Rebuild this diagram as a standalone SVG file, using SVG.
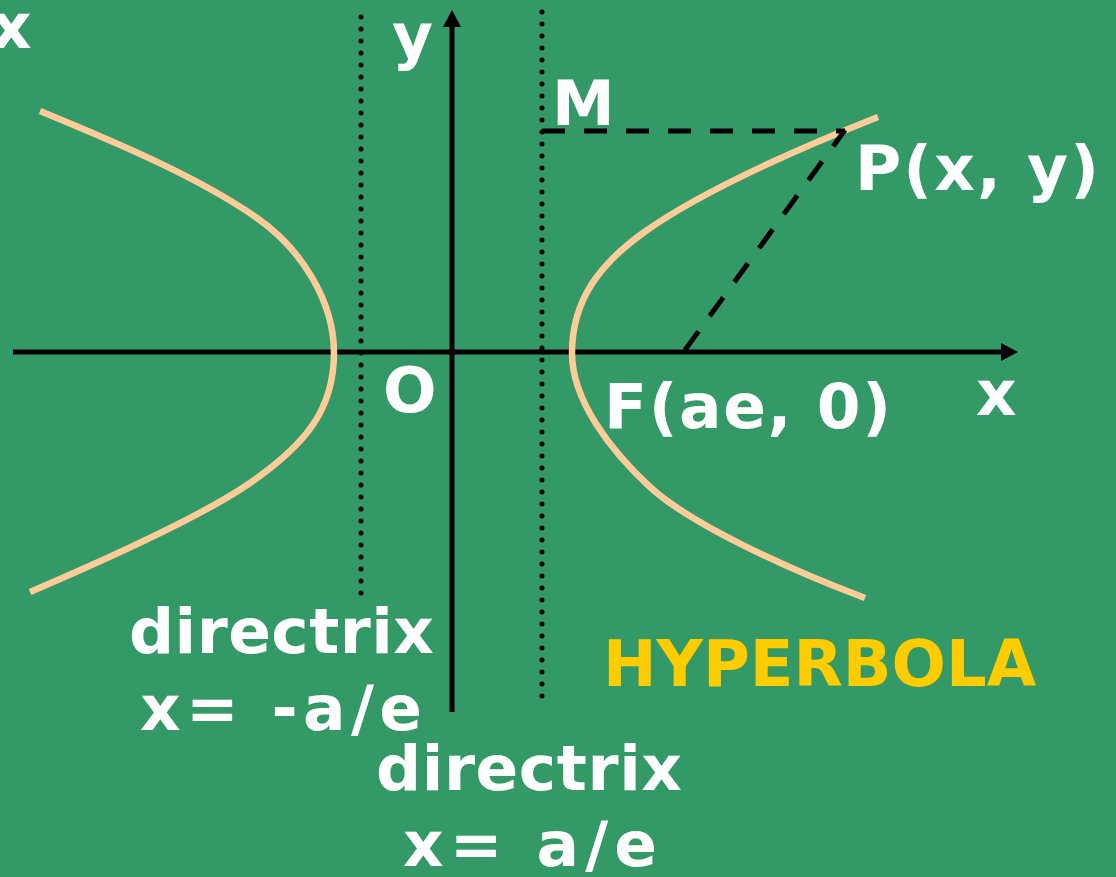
<svg xmlns="http://www.w3.org/2000/svg" width="1116" height="877" viewBox="0 0 1116 877">
<style>
.lbl{font-family:"DejaVu Sans","Verdana",sans-serif;font-weight:bold;font-size:63px;fill:#FFFFFF}
.title{font-family:"DejaVu Sans","Verdana",sans-serif;font-weight:bold;font-size:64px;fill:#FFCC00}
.axis{stroke:#000;stroke-width:5;fill:none}
.dot{stroke:#000;stroke-width:5;stroke-linecap:round;stroke-dasharray:0 12;fill:none}
.dash{stroke:#000;stroke-width:5;stroke-dasharray:23 19;fill:none}
.hyp{stroke:#FFCC99;stroke-width:6.5;fill:none;stroke-linejoin:round}
</style>
<rect x="0" y="0" width="1116" height="877" fill="#339966"/>
<g id="axes">
<line class="axis" x1="13" y1="352" x2="1002" y2="352"/>
<polygon points="1001,343 1018,352 1001,361" fill="#000"/>
<line class="axis" x1="452" y1="712" x2="452" y2="26"/>
<polygon points="443,27 452,10 461,27" fill="#000"/>
</g>
<g id="directrices">
<line class="dot" x1="361" y1="17" x2="361" y2="594"/>
<line class="dot" x1="542" y1="12" x2="542" y2="697"/>
</g>
<g id="hyperbola">
<path class="hyp" d="M40,111 C120,144 200,178 257,218 C300,248 334,300 334,353 C334,410 305,445 250,483 C204,515 100,562 30,592"/>
<path class="hyp" d="M878,117 C800,148 700,192 643,233 C600,264 572,300 572,353 C572,400 610,450 650,487 C690,524 790,570 865,598"/>
</g>
<g id="connectors">
<line class="dash" x1="542" y1="131" x2="845" y2="131"/>
<line class="dash" x1="685" y1="350" x2="845" y2="130"/>
</g>
<g id="labels">
<text class="lbl" x="-9" y="48">x</text>
<text class="lbl" x="392" y="58">y</text>
<text class="lbl" x="552" y="125">M</text>
<text class="lbl" x="855" y="190" textLength="244" lengthAdjust="spacing">P(x, y)</text>
<text class="lbl" x="383" y="412">O</text>
<text class="lbl" x="604" y="428" textLength="287" lengthAdjust="spacing">F(ae, 0)</text>
<text class="lbl" x="976" y="415">x</text>
<text class="lbl" x="129" y="653" textLength="305" lengthAdjust="spacing">directrix</text>
<text class="lbl" x="140" y="730" textLength="282" lengthAdjust="spacing">x= -a/e</text>
<text class="lbl" x="376" y="790" textLength="306" lengthAdjust="spacing">directrix</text>
<text class="lbl" x="403" y="866" textLength="254" lengthAdjust="spacing">x= a/e</text>
</g>
<g id="title">
<text class="title" x="603" y="686">HYPERBOLA</text>
</g>
</svg>
